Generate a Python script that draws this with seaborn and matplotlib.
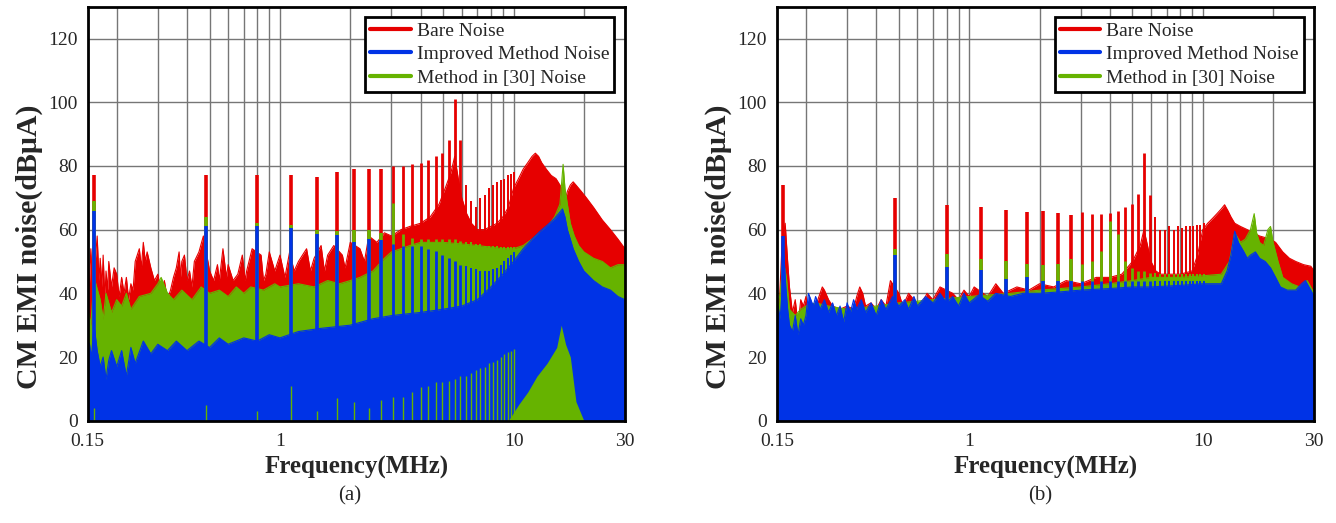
import matplotlib
matplotlib.use("Agg")
import matplotlib.pyplot as plt
import seaborn as sns
from matplotlib.lines import Line2D
from matplotlib.ticker import FixedLocator, NullFormatter

# ---------------- data ----------------
harm_freq = [0.16, 0.48, 0.80, 1.12, 1.44, 1.76, 2.08, 2.40, 2.72, 3.04, 3.36, 3.68,
             4.00, 4.32, 4.64, 4.96, 5.28, 5.60, 5.92, 6.24, 6.56, 6.88, 7.20, 7.52,
             7.84, 8.16, 8.48, 8.80, 9.12, 9.44, 9.76, 10.08]

# ---- panel (a)
bare_a_f = [0.15, 0.152, 0.155, 0.158, 0.165, 0.168, 0.17, 0.173, 0.175, 0.178, 0.18, 0.183,
            0.185, 0.19, 0.195, 0.2, 0.205, 0.21, 0.215, 0.22, 0.225, 0.23, 0.235, 0.24,
            0.25, 0.255, 0.26, 0.265, 0.27, 0.28, 0.29, 0.3, 0.31, 0.32, 0.33, 0.34, 0.35,
            0.36, 0.37, 0.375, 0.38, 0.39, 0.4, 0.41, 0.42, 0.43, 0.45, 0.47, 0.5, 0.52,
            0.54, 0.55, 0.57, 0.59, 0.6, 0.63, 0.66, 0.69, 0.71, 0.72, 0.76, 0.83, 0.85,
            0.87, 0.9, 0.95, 1.0, 1.05, 1.1, 1.15, 1.2, 1.3, 1.35, 1.4, 1.5, 1.55, 1.6,
            1.7, 1.85, 1.9, 2.0, 2.2, 2.3, 2.4, 2.6, 2.8, 3.0, 3.3, 3.6, 4.0, 4.4,
            4.8, 5.1, 5.4, 5.6, 5.8, 6.0, 6.3, 6.6, 7.0, 7.5, 8.0, 8.5, 9.0, 9.5, 10.0,
            10.5, 11.0, 11.5, 12.0, 12.4, 12.8, 13.2, 13.8, 14.5, 15.2, 15.8, 16.3, 16.6,
            17.0, 17.5, 18.0, 18.5, 19.5, 20.5, 22.0, 24.0, 26.0, 28.0, 30.0]
bare_a_v = [55, 38, 54, 40, 58, 44, 51, 42, 52, 38, 47, 41,
            50, 42, 48, 46, 39, 45, 40, 45, 38, 43, 41, 50,
            54, 48, 56, 50, 53, 48, 44, 46, 40, 44, 38, 41, 45,
            48, 53, 45, 50, 52, 44, 47, 42, 50, 53, 58, 47, 44,
            49, 44, 54, 45, 49, 44, 46, 52, 44, 47, 54, 52, 44,
            46, 53, 47, 52, 45, 53, 47, 50, 54, 47, 51, 55, 47, 52,
            55, 52, 48, 56, 54, 50, 58, 56, 59, 58, 60, 61, 62, 64,
            68, 73, 78, 83, 76, 70, 65, 62, 60, 60, 61, 62, 64, 67, 73,
            76, 79, 81, 83, 84, 83, 81, 79, 77, 76, 74, 72, 69,
            72, 74, 75, 74, 72, 70, 67, 63, 60, 57, 54]
bare_a_peak = [77, 77, 77, 77, 76.5, 78, 79, 79, 79, 80, 80, 80.5,
               81, 82, 83, 84, 88, 101, 88, 74, 69, 67, 70, 71,
               73, 74, 75, 75.5, 76, 77, 77.5, 78]

m30_a_f = [0.15, 0.155, 0.16, 0.17, 0.175, 0.18, 0.19, 0.2, 0.21, 0.22, 0.23, 0.25, 0.28,
           0.3, 0.31, 0.33, 0.35, 0.38, 0.42, 0.46, 0.5, 0.55, 0.6, 0.65, 0.7, 0.75, 0.85,
           0.95, 1.0, 1.2, 1.4, 1.6, 1.8, 2.0, 2.2, 2.5, 2.8, 3.0, 3.3, 3.6, 4.0, 5.0, 6.0,
           7.0, 8.0, 9.0, 10.0, 11.0, 12.0, 13.0, 14.0, 15.0, 15.8, 16.3, 16.6, 17.0, 17.5,
           18.2, 19.0, 20.0, 22.0, 24.0, 26.0, 28.0, 30.0]
m30_a_v = [36, 30, 45, 38, 32, 40, 34, 38, 36, 40, 35, 39, 40,
           43, 45, 40, 38, 41, 38, 42, 40, 41, 39, 42, 40, 42, 41,
           43, 42, 43, 42, 44, 43, 44, 45, 47, 51, 53, 54, 55, 56, 56, 55.5,
           55, 54.5, 54, 54, 55, 57, 59, 61, 64, 68, 80.5, 73, 68, 62,
           58, 55, 53, 51, 50, 48, 49, 49]
m30_a_peak = [69, 64, 62, 61.5, 60, 59.5, 60, 60, 59, 68.5, 58.5, 57.5,
              57, 57, 57, 57, 57, 57, 56.5, 56, 56, 55.5, 55.5, 55,
              55, 55, 55, 54.5, 54.5, 54.5, 54.5, 54.5]

imp_a_f = [0.15, 0.153, 0.156, 0.16, 0.165, 0.17, 0.175, 0.18, 0.185, 0.19, 0.2, 0.21,
           0.22, 0.23, 0.24, 0.26, 0.28, 0.3, 0.33, 0.36, 0.4, 0.45, 0.5, 0.55, 0.6, 0.7,
           0.8, 0.9, 1.0, 1.2, 1.5, 2.0, 2.5, 3.0, 4.0, 5.0, 6.0, 7.0, 8.0, 9.0, 10.0,
           11.0, 12.0, 13.0, 14.0, 15.0, 16.2, 16.6, 17.0, 17.5, 18.0, 19.0, 20.0, 22.0,
           24.0, 26.0, 28.0, 30.0]
imp_a_v = [25, 24, 20, 30, 22, 17, 20, 13, 19, 22, 17, 22,
           14, 23, 18, 25, 21, 24, 22, 25, 22, 25, 23, 26, 24, 26,
           25, 27, 26, 28, 29, 30, 32, 33, 34, 35, 36, 38, 42, 46, 50,
           54, 57, 59.5, 61.5, 63.5, 66.5, 64, 60, 57, 54, 50, 47, 44,
           42, 41, 39, 38]
imp_a_peak = [66, 61, 61, 60.5, 58.6, 58.4, 56, 57, 56.6, 55.5, 55, 55,
              55, 54, 53.4, 52, 51, 50, 49, 48.5, 48, 47.5, 47, 47,
              47, 47.5, 48, 49, 50, 51, 52, 53]

# green that shows below the blue trace, panel (a)
m30_a_low_f = [9.5, 10.5, 11.5, 12.6, 13.9, 15.3, 16.0, 16.7, 17.5, 18.5, 20.0]
m30_a_low_v = [0, 5, 9, 14, 18, 23, 30, 24, 20, 6, 0]
m30_a_low_peak = [4, 5, 3, 11, 3, 7, 6, 4, 6.5, 7.5, 7.5, 9,
                  10.5, 11, 12, 12, 12.5, 13, 14, 14, 15, 16, 16.5, 17,
                  18, 18.5, 19, 20, 21, 21.5, 22, 22.5]

# ---- panel (b)
bare_b_f = [0.15, 0.152, 0.155, 0.158, 0.163, 0.167, 0.17, 0.175, 0.18, 0.185, 0.19, 0.195,
            0.2, 0.205, 0.21, 0.215, 0.22, 0.23, 0.235, 0.24, 0.25, 0.26, 0.28, 0.3, 0.32,
            0.33, 0.34, 0.35, 0.36, 0.38, 0.4, 0.42, 0.44, 0.46, 0.5, 0.52, 0.55, 0.58,
            0.62, 0.66, 0.7, 0.75, 0.85, 0.9, 0.95, 1.0, 1.05, 1.2, 1.3, 1.4, 1.6, 1.8,
            2.0, 2.3, 2.6, 3.0, 3.5, 4.0, 4.5, 5.0, 5.4, 5.6, 5.8, 6.0, 6.3, 6.6, 7.0,
            8.0, 9.0, 9.5, 10.0, 10.5, 11.0, 11.5, 12.0, 12.4, 12.8, 13.2, 13.7, 14.5,
            15.5, 16.5, 17.5, 18.5, 19.5, 20.5, 22.0, 23.5, 25.0, 27.0, 29.0, 30.0]
bare_b_v = [40, 30, 42, 55, 62, 50, 42, 34, 38, 30, 38, 36,
            39, 33, 37, 32, 36, 40, 42, 41, 38, 36, 35, 36, 35,
            39, 42, 40, 36, 37, 35, 38, 36, 44, 40, 36, 40, 38,
            36, 40, 38, 42, 40, 38, 41, 39, 42, 39, 43, 40, 42, 41,
            43, 42, 44, 43, 45, 45, 46, 50, 55, 60, 55, 50, 47, 46, 46,
            46, 47, 52, 60, 62, 63.5, 65, 66.5, 67.8, 66, 64, 62, 61,
            60, 59, 58, 57.5, 57, 56, 53, 51, 50, 49, 48.5, 47]
bare_b_peak = [74, 70, 67.7, 67.2, 66.2, 65.5, 65.7, 65.2, 64.7, 65.5, 64.9, 64.9,
               65.1, 65.9, 67, 68, 71.3, 84.2, 71, 64, 60, 60, 61, 60,
               61, 60.5, 61, 61, 61, 61.5, 61.5, 62]

m30_b_f = [0.15, 0.155, 0.16, 0.165, 0.17, 0.18, 0.19, 0.2, 0.22, 0.25, 0.3, 0.4, 0.5,
           0.7, 1.0, 1.5, 2.0, 3.0, 4.0, 5.0, 6.0, 8.0, 10.0, 12.0, 13.0, 13.7, 14.5,
           15.2, 16.0, 16.6, 17.0, 17.5, 18.2, 19.0, 19.5, 20.0, 21.0, 22.0, 24.0, 26.0,
           28.0, 30.0]
m30_b_v = [33, 40, 50, 45, 35, 33, 35, 36, 37, 36, 35, 36, 37,
           38, 39, 40, 41, 42, 43, 44, 45, 45, 45.5, 46, 50, 59, 56,
           57, 60, 65, 59, 56, 55, 60, 61, 56, 50, 45, 43, 42,
           44, 40]
m30_b_peak = [49, 54, 52.4, 50.8, 50, 49.3, 49, 49.3, 50.8, 49.3, 50, 53.4,
              62.8, 58.6, 50, 48, 47, 47, 46.5, 46.5, 46, 46, 46, 46,
              46, 46, 46, 46, 46, 46, 46, 46]

imp_b_f = [0.15, 0.152, 0.155, 0.158, 0.161, 0.164, 0.167, 0.17, 0.175, 0.18, 0.185, 0.19,
           0.195, 0.2, 0.205, 0.21, 0.215, 0.22, 0.23, 0.24, 0.25, 0.26, 0.27, 0.28, 0.29,
           0.3, 0.31, 0.32, 0.33, 0.345, 0.36, 0.38, 0.4, 0.42, 0.44, 0.47, 0.5, 0.53,
           0.55, 0.58, 0.6, 0.65, 0.7, 0.75, 0.8, 0.85, 0.9, 0.95, 1.0, 1.1, 1.2, 1.3,
           1.5, 1.7, 2.0, 2.5, 3.0, 4.0, 5.0, 6.0, 8.0, 10.0, 12.0, 12.7, 13.2, 13.7,
           14.2, 15.0, 15.5, 16.0, 16.8, 17.5, 18.5, 19.5, 20.5, 21.5, 23.0, 25.0, 26.5,
           27.5, 29.0, 30.0]
imp_b_v = [30, 36, 32, 40, 52, 42, 35, 30, 28, 33, 27, 32,
           30, 33, 40, 38, 36, 39, 35, 38, 34, 37, 33, 36, 31,
           37, 34, 38, 35, 38, 34, 37, 33, 38, 35, 39, 36, 38,
           35, 39, 36, 39, 37, 40, 37, 39, 36, 40, 37, 39.5, 37.5, 40,
           39, 40, 40, 40.5, 41, 41.5, 42, 42, 42.5, 43, 43, 47, 52, 59.5,
           56, 53, 51, 52, 53, 51, 50, 48, 45, 42, 41, 41, 43,
           44, 41, 39]
imp_b_peak = [58, 52, 48.2, 47.2, 44.6, 45, 44, 44, 44, 44, 44, 44,
              44, 44, 44, 44, 44, 44, 44, 44, 44, 44, 44, 44,
              44, 44, 44, 44, 44, 44, 44, 44]

labels = ["Bare Noise", "Improved Method Noise", "Method in [30] Noise"]
RED, BLUE, GREEN = "#E60000", "#0033E6", "#66B300"

# ---------------- style ----------------
sns.set_style("white")
plt.rcParams['font.family'] = ['Liberation Serif', 'DejaVu Serif']

fig = plt.figure(figsize=(13.36, 5.23), dpi=100)
ax_a = fig.add_axes([0.0655, 0.1956, 0.4023, 0.7916])
ax_b = fig.add_axes([0.5814, 0.1956, 0.4023, 0.7916])

# spike width shrinks where the harmonics crowd together on the log axis
spike_lw = [2.6 if f < 3 else (2.0 if f < 6 else 1.4) for f in harm_freq]


def layer(ax, f, v, peak, color):
    ax.fill_between(f, 0, v, color=color, lw=0, zorder=2)
    sns.lineplot(x=f, y=v, ax=ax, color=color, lw=0.8, legend=False, zorder=2)
    ax.vlines(harm_freq, 0, peak, color=color, linewidths=spike_lw, zorder=2)


def style(ax):
    ax.set_xscale('log')
    ax.set_xlim(0.15, 30)
    ax.set_ylim(0, 130)
    ax.xaxis.set_major_locator(FixedLocator([0.15, 1, 10, 30]))
    ax.set_xticklabels(['0.15', '1', '10', '30'])
    ax.xaxis.set_minor_locator(FixedLocator([0.2, 0.3, 0.4, 0.5, 0.6, 0.7, 0.8, 0.9,
                                             2, 3, 4, 5, 6, 7, 8, 9, 20]))
    ax.xaxis.set_minor_formatter(NullFormatter())
    ax.yaxis.set_major_locator(FixedLocator([0, 20, 40, 60, 80, 100, 120]))
    ax.grid(True, which='both', axis='x', color='#767676', lw=1)
    ax.grid(True, which='major', axis='y', color='#767676', lw=1)
    ax.set_axisbelow(True)
    ax.tick_params(axis='x', which='both', length=0, labelsize=14, pad=9)
    ax.tick_params(axis='y', which='both', length=0, labelsize=14, pad=7)
    for s in ax.spines.values():
        s.set_color('black')
        s.set_linewidth(2)
        s.set_zorder(5)
    ax.set_xlabel('Frequency(MHz)', fontsize=18, fontweight='bold')
    ax.xaxis.set_label_coords(0.5, -0.085)
    ax.set_ylabel('CM EMI noise(dBμA)', fontsize=21.5, fontweight='bold')
    ax.yaxis.set_label_coords(-0.083, 0.42)
    handles = [Line2D([], [], color=RED, lw=3),
               Line2D([], [], color=BLUE, lw=3),
               Line2D([], [], color=GREEN, lw=3)]
    leg = ax.legend(handles, labels, loc='upper right', fontsize=14, frameon=True,
                    fancybox=False, edgecolor='black', framealpha=1,
                    handlelength=2.1, handletextpad=0.3, labelspacing=0.3,
                    borderpad=0.25, borderaxespad=0.55)
    leg.get_frame().set_linewidth(2)
    leg.set_zorder(6)


# panel (a)
layer(ax_a, bare_a_f, bare_a_v, bare_a_peak, RED)
layer(ax_a, m30_a_f, m30_a_v, m30_a_peak, GREEN)
layer(ax_a, imp_a_f, imp_a_v, imp_a_peak, BLUE)
ax_a.fill_between(m30_a_low_f, 0, m30_a_low_v, color=GREEN, lw=0, zorder=3)
ax_a.vlines(harm_freq, 0, m30_a_low_peak, color=GREEN, lw=1.0, zorder=3)
style(ax_a)

# panel (b)
layer(ax_b, bare_b_f, bare_b_v, bare_b_peak, RED)
layer(ax_b, m30_b_f, m30_b_v, m30_b_peak, GREEN)
layer(ax_b, imp_b_f, imp_b_v, imp_b_peak, BLUE)
style(ax_b)

fig.text(350 / 1336, 1 - 496 / 523, '(a)', ha='center', va='center', fontsize=15)
fig.text(1040 / 1336, 1 - 496 / 523, '(b)', ha='center', va='center', fontsize=15)

fig.savefig('out.png', dpi=100)
